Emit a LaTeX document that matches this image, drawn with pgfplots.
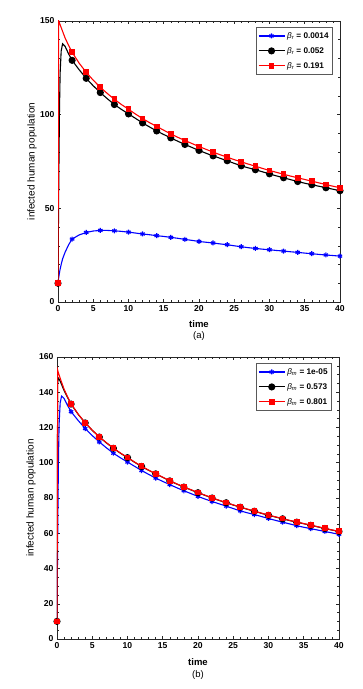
\documentclass[border=0pt]{standalone}
\usepackage{fontspec}
\setmainfont{Liberation Sans}
\usepackage{pgfplots}
\usepackage{pgfplotstable}
\pgfplotsset{compat=1.18}

% t, panel (a): beta_r = 0.0014, 0.052, 0.191 ; panel (b): beta_m = 0.573, 0.801
\pgfplotstableread{
t     ablue  ablack ared   bblack bred
0     10     10     10     10     10
0.1   13     60     150    146    152.5
0.2   15.5   100    149    148    151
0.3   17.5   122    148    147.5  149.8
0.45  20     134    146.5  146.3  148
0.65  23     137.8  144.5  144.4  145.7
1     26.5   136.5  141    141    141.8
1.5   30.5   132.5  137    137    137.4
2     33.6   129.0  133.3  133.3  133.4
3     35.8   124.0  127.5  127.5  127.6
4     37.1   119.4  122.6  122.6  122.7
5     37.9   115.4  118.4  118.4  118.5
6     38.2   111.8  114.6  114.6  114.7
7     38.2   108.5  111.3  111.3  111.4
8     38.0   105.4  108.2  108.2  108.3
9     37.7   102.8  105.4  105.4  105.5
10    37.3   100.4  102.9  102.9  103.0
11    36.8   98.0   100.3  100.3  100.4
12    36.3   95.6   97.9   97.9   98.0
13    35.9   93.4   95.7   95.7   95.8
14    35.4   91.3   93.7   93.7   93.8
15    35.0   89.4   91.7   91.7   91.8
16    34.5   87.6   89.7   89.7   89.8
17    34.0   85.8   87.9   87.9   88.0
18    33.4   84.1   86.2   86.2   86.3
19    32.9   82.5   84.6   84.6   84.7
20    32.3   80.9   83.0   83.0   83.1
21    31.9   79.4   81.5   81.5   81.6
22    31.5   78.0   80.0   80.0   80.1
23    31.0   76.7   78.6   78.6   78.7
24    30.6   75.4   77.3   77.3   77.4
25    30.0   74.0   76.0   76.0   76.1
26    29.5   72.7   74.8   74.8   74.9
27    29.0   71.6   73.6   73.6   73.7
28    28.6   70.6   72.5   72.5   72.6
29    28.2   69.5   71.3   71.3   71.4
30    27.9   68.4   70.2   70.2   70.3
31    27.5   67.3   69.2   69.2   69.3
32    27.2   66.3   68.2   68.2   68.3
33    26.8   65.3   67.2   67.2   67.3
34    26.5   64.3   66.3   66.3   66.4
35    26.1   63.4   65.4   65.4   65.5
36    25.8   62.6   64.5   64.5   64.6
37    25.4   61.8   63.6   63.6   63.7
38    25.1   61.0   62.7   62.7   62.8
39    24.8   60.2   61.8   61.8   61.9
40    24.5   59.4   61.0   61.0   61.1
}\datatab

\pgfplotsset{
  panel/.style={
    scale only axis, width=282pt, clip mode=individual,
    xmin=0, xmax=40, xtick={0,5,...,40},
    minor x tick num=4,
    tick align=inside,
    major tick length=3pt, minor tick length=1.6pt,
    axis line style={black!85, line width=0.6pt},
    every tick/.style={black!85, line width=0.5pt},
    tick label style={font=\bfseries\fontsize{8.6}{10}\selectfont},
    /pgf/number format/assume math mode=true,
    xlabel={time},
    xlabel style={font=\bfseries\fontsize{9.5}{10}\selectfont},
    ylabel={infected human population},
    ylabel style={font=\fontsize{10}{11}\selectfont, at={(axis description cs:-0.092,0.5)}, anchor=center},
    legend style={at={(0.975,0.979)}, anchor=north east, draw=black!65, line width=0.7pt,
      font=\bfseries\fontsize{8.2}{9}\selectfont, inner xsep=2pt, inner ysep=3pt, row sep=3.5pt,
      cells={anchor=west}},
    legend image code/.code={\draw[line width=1.1pt, mark indices={2}] plot coordinates {(0pt,0pt) (13pt,0pt) (26pt,0pt)};},
    mark indices={1,9,11,13,15,17,19,21,23,25,27,29,31,33,35,37,39,41,43,45,47},
  },
  sblue/.style={blue, line width=1.1pt, mark=asterisk, mark size=2.5pt, mark options={solid, line width=1.2pt}},
  sblack/.style={black, line width=1.1pt, mark=*, mark size=3pt, mark options={solid}},
  sred/.style={red, line width=1.1pt, mark=square*, mark size=2.3pt, mark options={solid}},
}

\newcommand{\leg}[2]{{\mdseries\itshape β}\textsubscript{\mdseries\itshape #1} = #2}

\begin{document}
\begin{tikzpicture}
\useasboundingbox (0pt,0pt) rectangle (363pt,689pt);

\begin{axis}[panel, at={(58pt,387pt)}, anchor=south west, height=281pt,
  ymin=0, ymax=150, ytick={0,50,100,150}, minor y tick num=4,
  xlabel style={at={(axis description cs:0.5,-0.078)}, anchor=center}]
\addplot[sblue] table[x=t, y=ablue] {\datatab};
\addlegendentry{\leg{r}{0.0014}}
\addplot[sblack] table[x=t, y=ablack] {\datatab};
\addlegendentry{\leg{r}{0.052}}
\addplot[sred] table[x=t, y=ared] {\datatab};
\addlegendentry{\leg{r}{0.191}}
\node[font=\fontsize{9.5}{10}\selectfont] at (axis description cs:0.5,-0.121) {(a)};
\end{axis}

\begin{axis}[panel, at={(57pt,50pt)}, anchor=south west, height=282pt,
  ymin=0, ymax=160, ytick={0,20,...,160}, minor y tick num=3,
  xlabel style={at={(axis description cs:0.5,-0.082)}, anchor=center}]
\addplot[sblue] table[x=t, y=ablack] {\datatab};
\addlegendentry{\leg{m}{1e-05}}
\addplot[sblack] table[x=t, y=bblack] {\datatab};
\addlegendentry{\leg{m}{0.573}}
\addplot[sred] table[x=t, y=bred] {\datatab};
\addlegendentry{\leg{m}{0.801}}
\node[font=\fontsize{9.5}{10}\selectfont] at (axis description cs:0.5,-0.128) {(b)};
\end{axis}
\end{tikzpicture}
\end{document}
